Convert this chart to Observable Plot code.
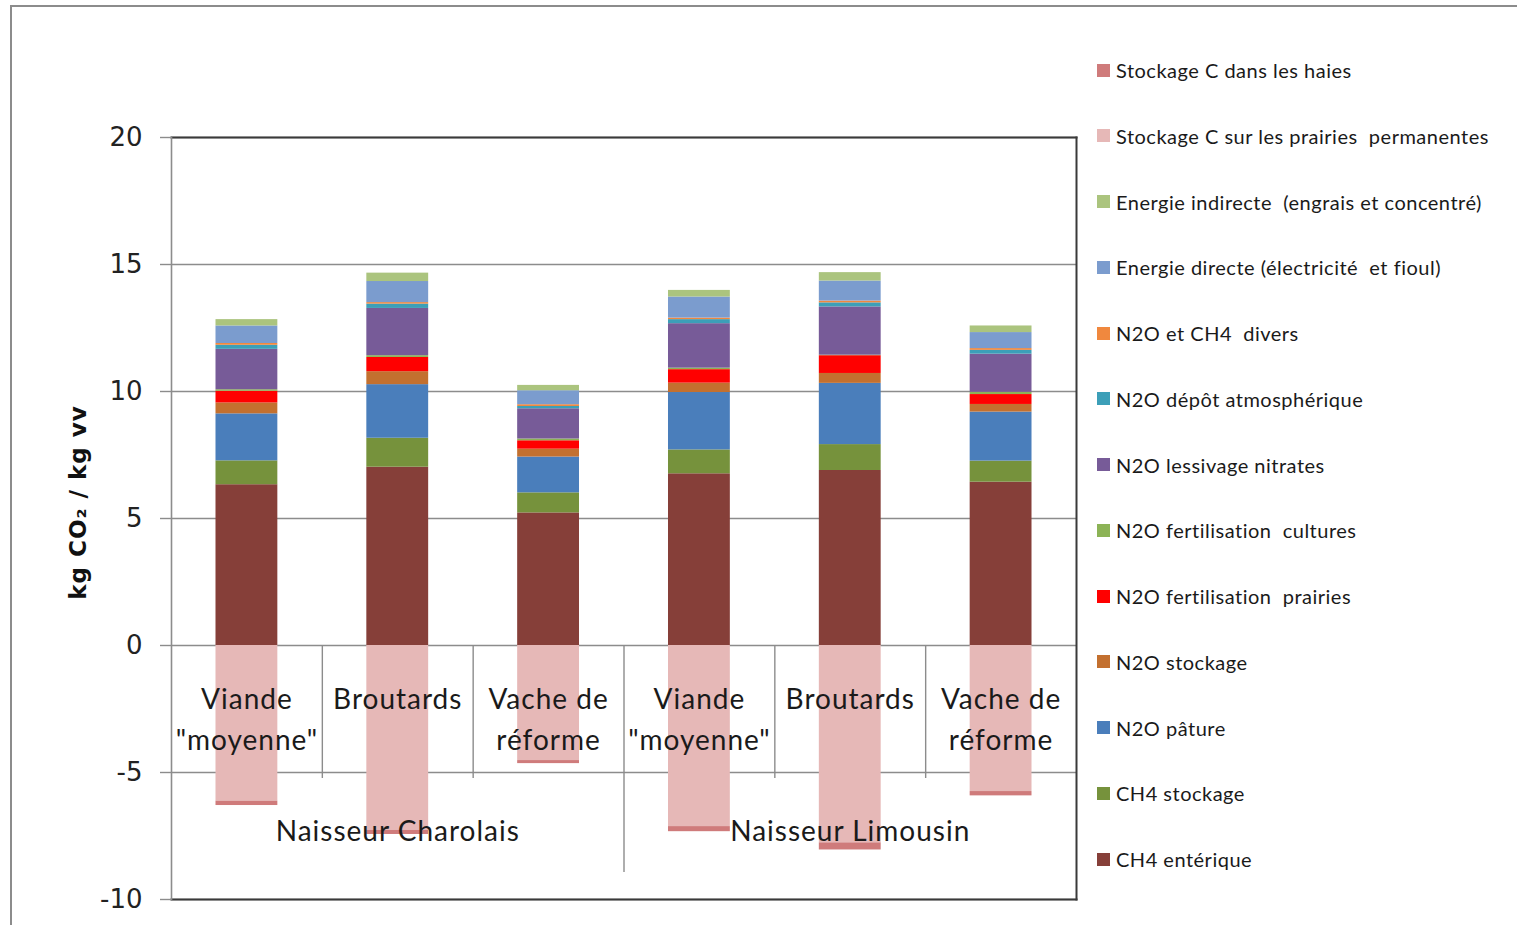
<!DOCTYPE html>
<html><head><meta charset="utf-8">
<script src="https://cdn.jsdelivr.net/npm/d3@7"></script>
<script src="https://cdn.jsdelivr.net/npm/@observablehq/plot@0.6"></script>
<style>
body{margin:0;background:#fff;overflow:hidden;}
#wrap{position:relative;width:1517px;height:925px;overflow:hidden;background:#fff;}
#border{position:absolute;left:10px;top:5px;width:1540px;height:960px;border:2px solid #8c8c8c;box-sizing:border-box;}
#chart{position:absolute;left:0;top:0;}
#chart g[aria-label="text"] text{letter-spacing:1px;}
#legend{position:absolute;left:0;top:0;font-family:Lato,sans-serif;font-size:20px;color:#1a1a1a;}
.item{position:absolute;left:1097px;height:24px;display:flex;align-items:center;white-space:nowrap;letter-spacing:0.5px;}
.sw{width:13px;height:13px;margin-right:6px;flex:none;}
</style></head>
<body><div id="wrap"><div id="border"></div><div id="chart"></div><div id="legend"></div></div>
<script>
// ---- data ----
const groups = ["Naisseur Charolais", "Naisseur Limousin"];
const products = ['Viande "moyenne"', "Broutards", "Vache de réforme"];
const labelLine1 = ["Viande", "Broutards", "Vache de"];
const labelLine2 = ['"moyenne"', "", "réforme"];
// stacking order (bottom to top), negatives last
const series = [
  "CH4 entérique", "CH4 stockage", "N2O pâture", "N2O stockage",
  "N2O fertilisation  prairies", "N2O fertilisation  cultures", "N2O lessivage nitrates",
  "N2O dépôt atmosphérique", "N2O et CH4  divers", "Energie directe (électricité  et fioul)",
  "Energie indirecte  (engrais et concentré)", "Stockage C sur les prairies  permanentes",
  "Stockage C dans les haies"
];
const colors = ["#863f39", "#76923c", "#4a7ebb", "#c3702f", "#ff0000", "#8cb356", "#775b98",
  "#3c9fb8", "#f0883e", "#7b9cce", "#abc47e", "#e6b8b7", "#cf7b7b"];
// values per category: Charolais (Viande, Broutards, Vache), Limousin (Viande, Broutards, Vache)
const ch4Enterique     = [6.33, 7.02, 5.22, 6.76, 6.89, 6.43];
const ch4Stockage      = [0.94, 1.14, 0.79, 0.94, 1.02, 0.83];
const n2oPature        = [1.85, 2.11, 1.41, 2.26, 2.41, 1.93];
const n2oStockage      = [0.43, 0.51, 0.31, 0.37, 0.39, 0.30];
const n2oFertPrairies  = [0.46, 0.56, 0.33, 0.53, 0.70, 0.39];
const n2oFertCultures  = [0.06, 0.07, 0.07, 0.06, 0.02, 0.09];
const n2oLessivage     = [1.59, 1.86, 1.19, 1.75, 1.90, 1.50];
const n2oDepot         = [0.16, 0.17, 0.09, 0.16, 0.16, 0.15];
const n2oDivers        = [0.07, 0.06, 0.07, 0.06, 0.07, 0.07];
const energieDirecte   = [0.69, 0.83, 0.55, 0.83, 0.79, 0.63];
const energieIndirecte = [0.25, 0.33, 0.21, 0.26, 0.33, 0.26];
const stockPrairies    = [-6.13, -7.28, -4.53, -7.13, -7.77, -5.75];
const stockHaies       = [-0.17, -0.16, -0.12, -0.20, -0.28, -0.17];
const seriesValues = [ch4Enterique, ch4Stockage, n2oPature, n2oStockage, n2oFertPrairies,
  n2oFertCultures, n2oLessivage, n2oDepot, n2oDivers, energieDirecte, energieIndirecte,
  stockPrairies, stockHaies];
const yTicks = [-10, -5, 0, 5, 10, 15, 20];
const yLabel = "kg CO₂ / kg vv";

// ---- build table ----
const cats = [];
groups.forEach((g, gi) => products.forEach((p, pi) => cats.push({
  key: g + "|" + p, group: g, l1: labelLine1[pi], l2: labelLine2[pi], gi, pi
})));
const keys = cats.map(c => c.key);
const rows = [];
cats.forEach((c, ci) => series.forEach((s, si) => rows.push({key: c.key, series: s, value: seriesValues[si][ci]})));

const W = 1517, H = 925, mL = 171, mR = 441, mT = 137, mB = 26;
const step = (W - mL - mR) / keys.length;
const grid = "#8c8c8c";
const dark = "#3a3a3a";
const labFont = {fontSize: 28, fontFamily: "Lato", fill: "#1a1a1a"};

const plot = Plot.plot({
  width: W, height: H,
  marginLeft: mL, marginRight: mR, marginTop: mT, marginBottom: mB,
  style: {fontFamily: "DejaVu Sans", background: "transparent", overflow: "visible"},
  x: {domain: keys, paddingInner: 0.59, paddingOuter: 0.295, round: false, axis: null},
  y: {domain: [yTicks[0], yTicks[yTicks.length - 1]], axis: null},
  color: {domain: series, range: colors},
  marks: [
    Plot.ruleY(yTicks, {stroke: grid, strokeWidth: 1.4}),
    Plot.barY(rows, {x: "key", y: "value", fill: "series", z: "series", order: null}),
    Plot.ruleX(cats.filter(c => c.pi > 0), {x: "key", y1: 0, y2: yTicks[0], dx: -step / 2, insetBottom: 121, stroke: grid, strokeWidth: 1.4}),
    Plot.ruleX(cats.filter(c => c.gi > 0 && c.pi === 0), {x: "key", y1: 0, y2: yTicks[0], dx: -step / 2, insetBottom: 27, stroke: grid, strokeWidth: 1.4}),
    Plot.frame({anchor: "top", stroke: dark, strokeWidth: 2}),
    Plot.frame({anchor: "right", stroke: dark, strokeWidth: 2}),
    Plot.frame({anchor: "bottom", stroke: dark, strokeWidth: 2}),
    Plot.frame({anchor: "left", stroke: grid, strokeWidth: 1.6}),
    Plot.axisY({ticks: yTicks, tickSize: 11, tickPadding: 18, fontSize: 26, label: null, stroke: grid, fill: "#222", strokeWidth: 1.4, tickFormat: d => String(d)}),
    Plot.text(cats, {x: "key", y: 0, text: "l1", dy: 55, ...labFont}),
    Plot.text(cats, {x: "key", y: 0, text: "l2", dy: 96, ...labFont}),
    Plot.text(cats.filter(c => c.pi === 1), {x: "key", y: 0, text: "group", dy: 187, ...labFont}),
    Plot.text([yLabel], {frameAnchor: "left", textAnchor: "middle", text: d => d, rotate: -90, dx: -93, dy: -16, fontSize: 23, fontWeight: "bold", fontFamily: "DejaVu Sans", fill: "#111"})
  ]
});
document.getElementById("chart").appendChild(plot);

// ---- legend (top to bottom = reverse stacking order) ----
const legend = document.getElementById("legend");
const legendOrder = series.map((s, i) => i).reverse();
legendOrder.forEach((si, k) => {
  const d = document.createElement("div");
  d.className = "item";
  d.style.top = (70 + k * 65.75 - 12) + "px";
  const sw = document.createElement("span");
  sw.className = "sw"; sw.style.background = colors[si];
  const t = document.createElement("span");
  t.textContent = series[si];
  t.style.whiteSpace = "pre";
  d.appendChild(sw); d.appendChild(t);
  legend.appendChild(d);
});
</script></body></html>
